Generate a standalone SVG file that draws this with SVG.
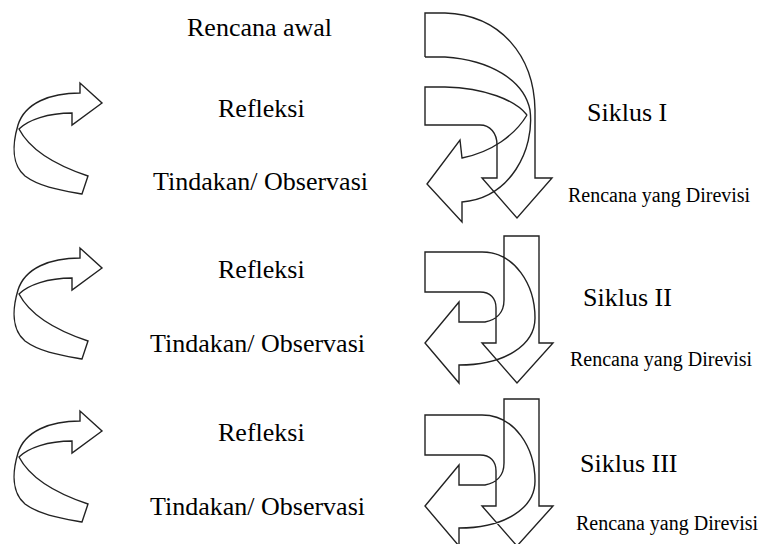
<svg xmlns="http://www.w3.org/2000/svg" width="761" height="544" viewBox="0 0 761 544">
<style>
.s{fill:none;stroke:#222;stroke-width:1.4;stroke-linejoin:miter}
.t{font-family:"Liberation Serif","Times New Roman",serif;fill:#000;font-size:26px}
.r{font-family:"Liberation Serif","Times New Roman",serif;fill:#000;font-size:20px}
</style>
<defs>
<g id="curl">
<path class="s" d="M80,93 C50,93 25,103 18,125 C12,145 12,165 25,176 C40,187 60,190 82,194 L88,176 C55,165 30,150 19,129 C28,120 48,113 72,113 L72,125 L102,103 L80,83 Z"/>
</g>
<g id="cyc">
<path class="s" d="M425,252 L482,252 C515,252 535,285 535,318 C535,345 505,365 459,365 L459,383 L425,343 L459,302 L459,322 L485,322 C496,320 504,313 504,300 L504,236 L539,236 L539,343 L553,343 L517,383 L482,343 L496,343 L496,308 C496,298 490,292 480,292 L425,292 Z"/>
</g>
</defs>
<rect width="761" height="544" fill="#fff"/>
<g id="connectors">
<g id="loop1"><use href="#curl"/></g>
<g id="loop2"><use href="#curl" transform="translate(0,165)"/></g>
<g id="loop3"><use href="#curl" transform="translate(0,328)"/></g>
<g id="cycle1-arrows">
<path class="s" d="M425,57 L425,13 L445,13 C500,15 534,55 535,110 L535,178 L552,178 L517,218 L482,178 L497,178 L497,145 C497,133 490,125 480,125 L425,125 L425,87 L445,87 C485,88 515,100 527,115"/>
<path class="s" d="M425,57 L445,57 C490,60 524,80 530,110 C535,150 510,198 462,202 L462,222 L427,184 L460,140 L462,158 C492,152 515,135 527,115"/>
</g>
<g id="cycle2-arrows"><use href="#cyc"/></g>
<g id="cycle3-arrows"><use href="#cyc" transform="translate(0,163)"/></g>
</g>
<g id="rencana-awal"><text class="t" x="187" y="36">Rencana awal</text></g>
<g id="refleksi1"><text class="t" x="218" y="117">Refleksi</text></g>
<g id="tindakan1"><text class="t" x="153" y="190">Tindakan/ Observasi</text></g>
<g id="siklus1"><text class="t" x="587" y="121">Siklus I</text></g>
<g id="revisi1"><text class="r" x="568" y="202">Rencana yang Direvisi</text></g>
<g id="refleksi2"><text class="t" x="218" y="278">Refleksi</text></g>
<g id="tindakan2"><text class="t" x="150" y="352">Tindakan/ Observasi</text></g>
<g id="siklus2"><text class="t" x="583" y="306">Siklus II</text></g>
<g id="revisi2"><text class="r" x="570" y="366">Rencana yang Direvisi</text></g>
<g id="refleksi3"><text class="t" x="218" y="441">Refleksi</text></g>
<g id="tindakan3"><text class="t" x="150" y="515">Tindakan/ Observasi</text></g>
<g id="siklus3"><text class="t" x="580" y="472">Siklus III</text></g>
<g id="revisi3"><text class="r" x="576" y="530">Rencana yang Direvisi</text></g>
</svg>
